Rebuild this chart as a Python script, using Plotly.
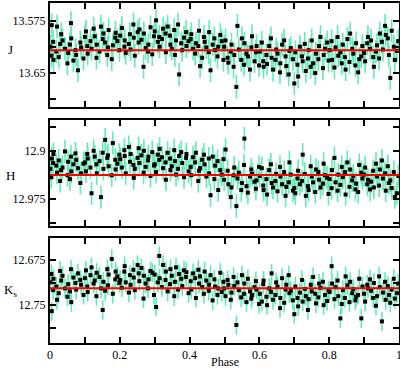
import plotly.graph_objects as go

# ---------------- data ----------------
phase = [
    0.001, 0.005, 0.004, 0.009, 0.010, 0.020, 0.018, 0.029, 0.025, 0.032, 0.043, 0.036,
    0.050, 0.052, 0.060, 0.057, 0.067, 0.061, 0.073, 0.080, 0.075, 0.087, 0.096, 0.089,
    0.100, 0.107, 0.103, 0.108, 0.116, 0.125, 0.119, 0.133, 0.128, 0.134, 0.146, 0.142,
    0.151, 0.153, 0.164, 0.158, 0.168, 0.166, 0.177, 0.187, 0.180, 0.188, 0.199, 0.193,
    0.201, 0.213, 0.206, 0.214, 0.217, 0.229, 0.226, 0.239, 0.231, 0.240, 0.251, 0.243,
    0.254, 0.256, 0.268, 0.262, 0.274, 0.269, 0.281, 0.288, 0.282, 0.298, 0.293,
    0.300, 0.309, 0.304, 0.313, 0.314, 0.324, 0.321, 0.332, 0.331, 0.337, 0.345, 0.344,
    0.349, 0.356, 0.361, 0.358, 0.370, 0.367, 0.376, 0.384, 0.379, 0.390, 0.397, 0.391,
    0.403, 0.410, 0.405, 0.416, 0.418, 0.427, 0.425, 0.436, 0.430, 0.441, 0.448, 0.443,
    0.455, 0.456, 0.466, 0.460, 0.473, 0.471, 0.480, 0.488, 0.482, 0.497, 0.492,
    0.499, 0.509, 0.503, 0.511, 0.518, 0.526, 0.520, 0.528, 0.534, 0.537, 0.548, 0.541,
    0.550, 0.556, 0.563, 0.557, 0.573, 0.567, 0.577, 0.586, 0.579, 0.590, 0.599, 0.592,
    0.601, 0.611, 0.607, 0.612, 0.620, 0.628, 0.622, 0.635, 0.633, 0.639, 0.648, 0.646,
    0.652, 0.659, 0.665, 0.660, 0.675, 0.671, 0.677, 0.686, 0.684, 0.696, 0.690,
    0.700, 0.709, 0.703, 0.711, 0.716, 0.724, 0.722, 0.733, 0.730, 0.739, 0.747, 0.741,
    0.750, 0.754, 0.762, 0.760, 0.771, 0.769, 0.775, 0.784, 0.782, 0.788, 0.798, 0.794,
    0.801, 0.808, 0.807, 0.815, 0.818, 0.826, 0.824, 0.836, 0.832, 0.839, 0.847, 0.845,
    0.852, 0.858, 0.866, 0.860, 0.875, 0.869, 0.877, 0.886, 0.883, 0.895, 0.892,
    0.900, 0.909, 0.903, 0.911, 0.917, 0.926, 0.920, 0.934, 0.928, 0.937, 0.945, 0.943,
    0.951, 0.954, 0.962, 0.960, 0.971, 0.968, 0.975, 0.985, 0.979, 0.988, 0.998, 0.994,
]

mag_J = [
    13.612, 13.581, 13.625, 13.605, 13.631, 13.583, 13.619, 13.608, 13.627, 13.594, 13.615, 13.603,
    13.636, 13.621, 13.578, 13.609, 13.632, 13.600, 13.617, 13.646, 13.624, 13.606, 13.629, 13.613,
    13.598, 13.611, 13.590, 13.622, 13.604, 13.586, 13.615, 13.628, 13.597, 13.609, 13.583, 13.619,
    13.601, 13.593, 13.624, 13.606, 13.588, 13.613, 13.630, 13.599, 13.610, 13.592, 13.617, 13.604,
    13.596, 13.612, 13.585, 13.603, 13.621, 13.594, 13.608, 13.580, 13.616, 13.599, 13.591, 13.625,
    13.606, 13.587, 13.641, 13.602, 13.614, 13.593, 13.619, 13.584, 13.609, 13.597, 13.623,
    13.590, 13.605, 13.574, 13.598, 13.612, 13.586, 13.601, 13.620, 13.593, 13.583, 13.609, 13.596,
    13.615, 13.588, 13.603, 13.624, 13.652, 13.580, 13.607, 13.599, 13.617, 13.591, 13.604, 13.611,
    13.601, 13.615, 13.594, 13.622, 13.607, 13.589, 13.611, 13.628, 13.640, 13.598, 13.613, 13.605,
    13.620, 13.591, 13.609, 13.646, 13.617, 13.600, 13.626, 13.595, 13.612, 13.631, 13.604,
    13.612, 13.628, 13.603, 13.635, 13.619, 13.641, 13.609, 13.624, 13.670, 13.582, 13.631, 13.616,
    13.600, 13.638, 13.622, 13.607, 13.645, 13.626, 13.613, 13.633, 13.597, 13.620, 13.639, 13.611,
    13.619, 13.633, 13.606, 13.641, 13.624, 13.611, 13.637, 13.628, 13.600, 13.645, 13.616, 13.631,
    13.622, 13.649, 13.609, 13.636, 13.626, 13.603, 13.640, 13.618, 13.652, 13.630, 13.614,
    13.665, 13.638, 13.620, 13.655, 13.612, 13.633, 13.626, 13.647, 13.608, 13.629, 13.641, 13.617,
    13.603, 13.636, 13.622, 13.650, 13.611, 13.630, 13.598, 13.624, 13.643, 13.615, 13.632, 13.606,
    13.617, 13.631, 13.604, 13.642, 13.613, 13.625, 13.598, 13.636, 13.620, 13.609, 13.645, 13.627,
    13.601, 13.634, 13.615, 13.593, 13.639, 13.622, 13.607, 13.630, 13.649, 13.611, 13.626,
    13.621, 13.607, 13.633, 13.598, 13.615, 13.627, 13.603, 13.619, 13.641, 13.610, 13.593, 13.629,
    13.605, 13.616, 13.595, 13.582, 13.624, 13.600, 13.657, 13.612, 13.589, 13.631, 13.604, 13.618,
]

mag_H = [
    12.928, 12.912, 12.941, 12.919, 12.905, 12.934, 12.923, 12.947, 12.915, 12.930, 12.901, 12.926,
    12.938, 12.917, 12.909, 12.944, 12.921, 12.932, 12.904, 12.927, 12.914, 12.950, 12.920, 12.935,
    12.918, 12.905, 12.932, 12.912, 12.926, 12.900, 12.966, 12.921, 12.909, 12.935, 12.972, 12.916,
    12.903, 12.928, 12.911, 12.883, 12.924, 12.907, 12.938, 12.914, 12.888, 12.929, 12.906, 12.920,
    12.913, 12.899, 12.926, 12.908, 12.935, 12.917, 12.894, 12.922, 12.905, 12.942, 12.911, 12.928,
    12.896, 12.919, 12.934, 12.907, 12.925, 12.900, 12.915, 12.939, 12.909, 12.923, 12.902,
    12.921, 12.906, 12.933, 12.914, 12.897, 12.927, 12.910, 12.945, 12.918, 12.903, 12.930, 12.912,
    12.924, 12.899, 12.937, 12.916, 12.908, 12.928, 12.902, 12.941, 12.919, 12.911, 12.932, 12.905,
    12.925, 12.910, 12.938, 12.918, 12.903, 12.931, 12.947, 12.914, 12.927, 12.906, 12.940, 12.921,
    12.912, 12.935, 12.909, 12.969, 12.923, 12.944, 12.916, 12.930, 12.961, 12.913, 12.937,
    12.945, 12.931, 12.898, 12.952, 12.972, 12.938, 12.957, 12.926, 12.986, 12.943, 12.961, 12.934,
    12.950, 12.922, 12.955, 12.881, 12.940, 12.965, 12.929, 12.948, 12.936, 12.959, 12.925, 12.946,
    12.939, 12.954, 12.927, 12.961, 12.944, 12.930, 12.968, 12.950, 12.921, 12.957, 12.936, 12.947,
    12.963, 12.925, 12.952, 12.940, 12.970, 12.933, 12.956, 12.918, 12.949, 12.962, 12.937,
    12.958, 12.943, 12.966, 12.931, 12.952, 12.906, 12.947, 12.970, 12.936, 12.955, 12.924, 12.961,
    12.940, 12.949, 12.929, 12.964, 12.945, 12.933, 12.957, 12.920, 12.951, 12.938, 12.967, 12.942,
    12.944, 12.930, 12.958, 12.911, 12.949, 12.937, 12.962, 12.925, 12.953, 12.941, 12.968, 12.933,
    12.918, 12.956, 12.946, 12.929, 12.960, 12.939, 12.951, 12.922, 12.964, 12.943, 12.934,
    12.937, 12.952, 12.926, 12.945, 12.960, 12.931, 12.948, 12.920, 12.957, 12.940, 12.929, 12.954,
    12.915, 12.943, 12.962, 12.935, 12.950, 12.924, 12.946, 12.933, 12.958, 12.972, 12.939, 12.966,
]

mag_Ks = [
    12.712, 12.760, 12.698, 12.725, 12.706, 12.741, 12.719, 12.693, 12.730, 12.709, 12.722, 12.701,
    12.736, 12.715, 12.690, 12.727, 12.704, 12.745, 12.713, 12.697, 12.724, 12.708, 12.733, 12.716,
    12.705, 12.719, 12.692, 12.728, 12.700, 12.714, 12.687, 12.735, 12.709, 12.696, 12.722, 12.703,
    12.758, 12.711, 12.690, 12.726, 12.699, 12.717, 12.673, 12.707, 12.731, 12.694, 12.713, 12.702,
    12.708, 12.694, 12.721, 12.685, 12.712, 12.700, 12.729, 12.691, 12.716, 12.704, 12.683, 12.725,
    12.697, 12.710, 12.739, 12.688, 12.714, 12.701, 12.722, 12.693, 12.707, 12.733, 12.696,
    12.699, 12.712, 12.753, 12.668, 12.705, 12.683, 12.720, 12.694, 12.708, 12.727, 12.690, 12.715,
    12.701, 12.735, 12.687, 12.711, 12.698, 12.724, 12.706, 12.692, 12.718, 12.703, 12.730, 12.695,
    12.710, 12.697, 12.724, 12.705, 12.738, 12.714, 12.691, 12.720, 12.702, 12.731, 12.709, 12.694,
    12.726, 12.716, 12.742, 12.700, 12.719, 12.707, 12.733, 12.696, 12.722, 12.711, 12.728,
    12.722, 12.708, 12.735, 12.716, 12.741, 12.703, 12.729, 12.718, 12.783, 12.712, 12.737, 12.725,
    12.700, 12.731, 12.745, 12.714, 12.727, 12.706, 12.739, 12.720, 12.733, 12.710, 12.748, 12.724,
    12.731, 12.715, 12.744, 12.709, 12.736, 12.722, 12.750, 12.697, 12.728, 12.741, 12.712, 12.733,
    12.719, 12.755, 12.705, 12.738, 12.724, 12.746, 12.716, 12.730, 12.700, 12.742, 12.726,
    12.765, 12.738, 12.719, 12.752, 12.729, 12.744, 12.708, 12.735, 12.723, 12.758, 12.716, 12.740,
    12.727, 12.703, 12.747, 12.731, 12.714, 12.737, 12.721, 12.750, 12.711, 12.733, 12.725, 12.743,
    12.728, 12.714, 12.685, 12.740, 12.720, 12.735, 12.709, 12.748, 12.772, 12.725, 12.702, 12.738,
    12.717, 12.745, 12.730, 12.711, 12.742, 12.723, 12.736, 12.706, 12.733, 12.719, 12.772,
    12.731, 12.716, 12.744, 12.722, 12.707, 12.738, 12.726, 12.751, 12.713, 12.735, 12.720, 12.702,
    12.777, 12.729, 12.741, 12.711, 12.733, 12.718, 12.746, 12.706, 12.724, 12.739, 12.714, 12.730,
]

err_J = 0.017
err_H = 0.018
err_Ks = 0.016

fit_J = 13.617
fit_H = 12.9375
fit_Ks = 12.7217

y_range_J = [13.699, 13.549]
y_range_H = [13.017, 12.852]
y_range_Ks = [12.813, 12.638]

ytick_J = [13.575, 13.65]
yminor_J = [13.5375, 13.6125, 13.6875]
ytick_H = [12.9, 12.975]
yminor_H = [12.8625, 12.9375, 13.0125]
ytick_Ks = [12.675, 12.75]
yminor_Ks = [12.6375, 12.7125, 12.7875]

xtick_vals = [0, 0.2, 0.4, 0.6, 0.8, 1.0]
xtick_text = ["0", "0.2", "0.4", "0.6", "0.8", "1"]
xminor_vals = [0.1, 0.3, 0.5, 0.7, 0.9]

band_labels = ["J", "H", "K<sub>s</sub>"]

# ---------------- figure ----------------
FONT = "Liberation Serif, Times New Roman, serif"
ERR_COLOR = "#62EBB2"

panels = [
    (mag_J, err_J, fit_J, y_range_J, ytick_J, yminor_J, [0.694, 1.0], 50),
    (mag_H, err_H, fit_H, y_range_H, ytick_H, yminor_H, [0.344, 0.656], 175),
    (mag_Ks, err_Ks, fit_Ks, y_range_Ks, ytick_Ks, yminor_Ks, [0.0, 0.309], 290),
]

fig = go.Figure()
layout = {}
for i, (mag, err, fit, yr, ytv, ymv, dom, ypix) in enumerate(panels):
    n = i + 1
    xa = "x" if n == 1 else f"x{n}"
    ya = "y" if n == 1 else f"y{n}"
    fig.add_trace(go.Scatter(
        x=phase, y=mag, mode="markers", xaxis=xa, yaxis=ya,
        marker=dict(symbol="square", size=4, color="black"),
        error_y=dict(type="constant", value=err, color=ERR_COLOR,
                     thickness=1.6, width=0),
        showlegend=False, hoverinfo="skip",
    ))
    fig.add_shape(type="line", xref=f"{xa} domain", yref=ya,
                  x0=0, x1=1, y0=fit, y1=fit,
                  line=dict(color="#FF0000", width=2), layer="above")
    axis_common = dict(showline=True, linewidth=2, linecolor="black",
                       mirror="ticks", ticks="inside", ticklen=6,
                       tickwidth=1.5, tickcolor="black", showgrid=False,
                       zeroline=False, automargin=False,
                       tickfont=dict(family=FONT, size=12, color="black"))
    xkey = "xaxis" if n == 1 else f"xaxis{n}"
    ykey = "yaxis" if n == 1 else f"yaxis{n}"
    xa_cfg = dict(axis_common, range=[0, 1], domain=[0, 1], anchor=ya,
                  tickvals=xtick_vals, ticklabeloverflow="allow",
                  minor=dict(tickvals=xminor_vals, ticks="inside", ticklen=6,
                             tickwidth=1.5, tickcolor="black", showgrid=False))
    if n == 3:
        xa_cfg["ticktext"] = xtick_text
    else:
        xa_cfg["showticklabels"] = False
    layout[xkey] = xa_cfg
    layout[ykey] = dict(axis_common, range=yr, domain=dom, anchor=xa,
                        tickvals=ytv, ticktext=[str(v) for v in ytv],
                        minor=dict(tickvals=ymv, ticks="inside", ticklen=6,
                                   tickwidth=1.5, tickcolor="black",
                                   showgrid=False))
    fig.add_annotation(text=band_labels[i], xref="paper", yref="paper",
                       x=(10 - 50) / 349, y=(343 - ypix) / 340,
                       showarrow=False, xanchor="center", yanchor="middle",
                       font=dict(family=FONT, size=13, color="black"))

fig.add_annotation(text="Phase", xref="paper", yref="paper",
                   x=0.5, y=(343 - 362) / 340, showarrow=False,
                   xanchor="center", yanchor="middle",
                   font=dict(family=FONT, size=12, color="black"))

fig.update_layout(
    width=400, height=369,
    margin=dict(l=50, r=1, t=3, b=26),
    paper_bgcolor="white", plot_bgcolor="white",
    **layout,
)

fig.write_html(
    "out.html",
    config={"displayModeBar": False},
    post_script="document.body.style.margin='0';document.body.style.overflow='hidden';",
)
